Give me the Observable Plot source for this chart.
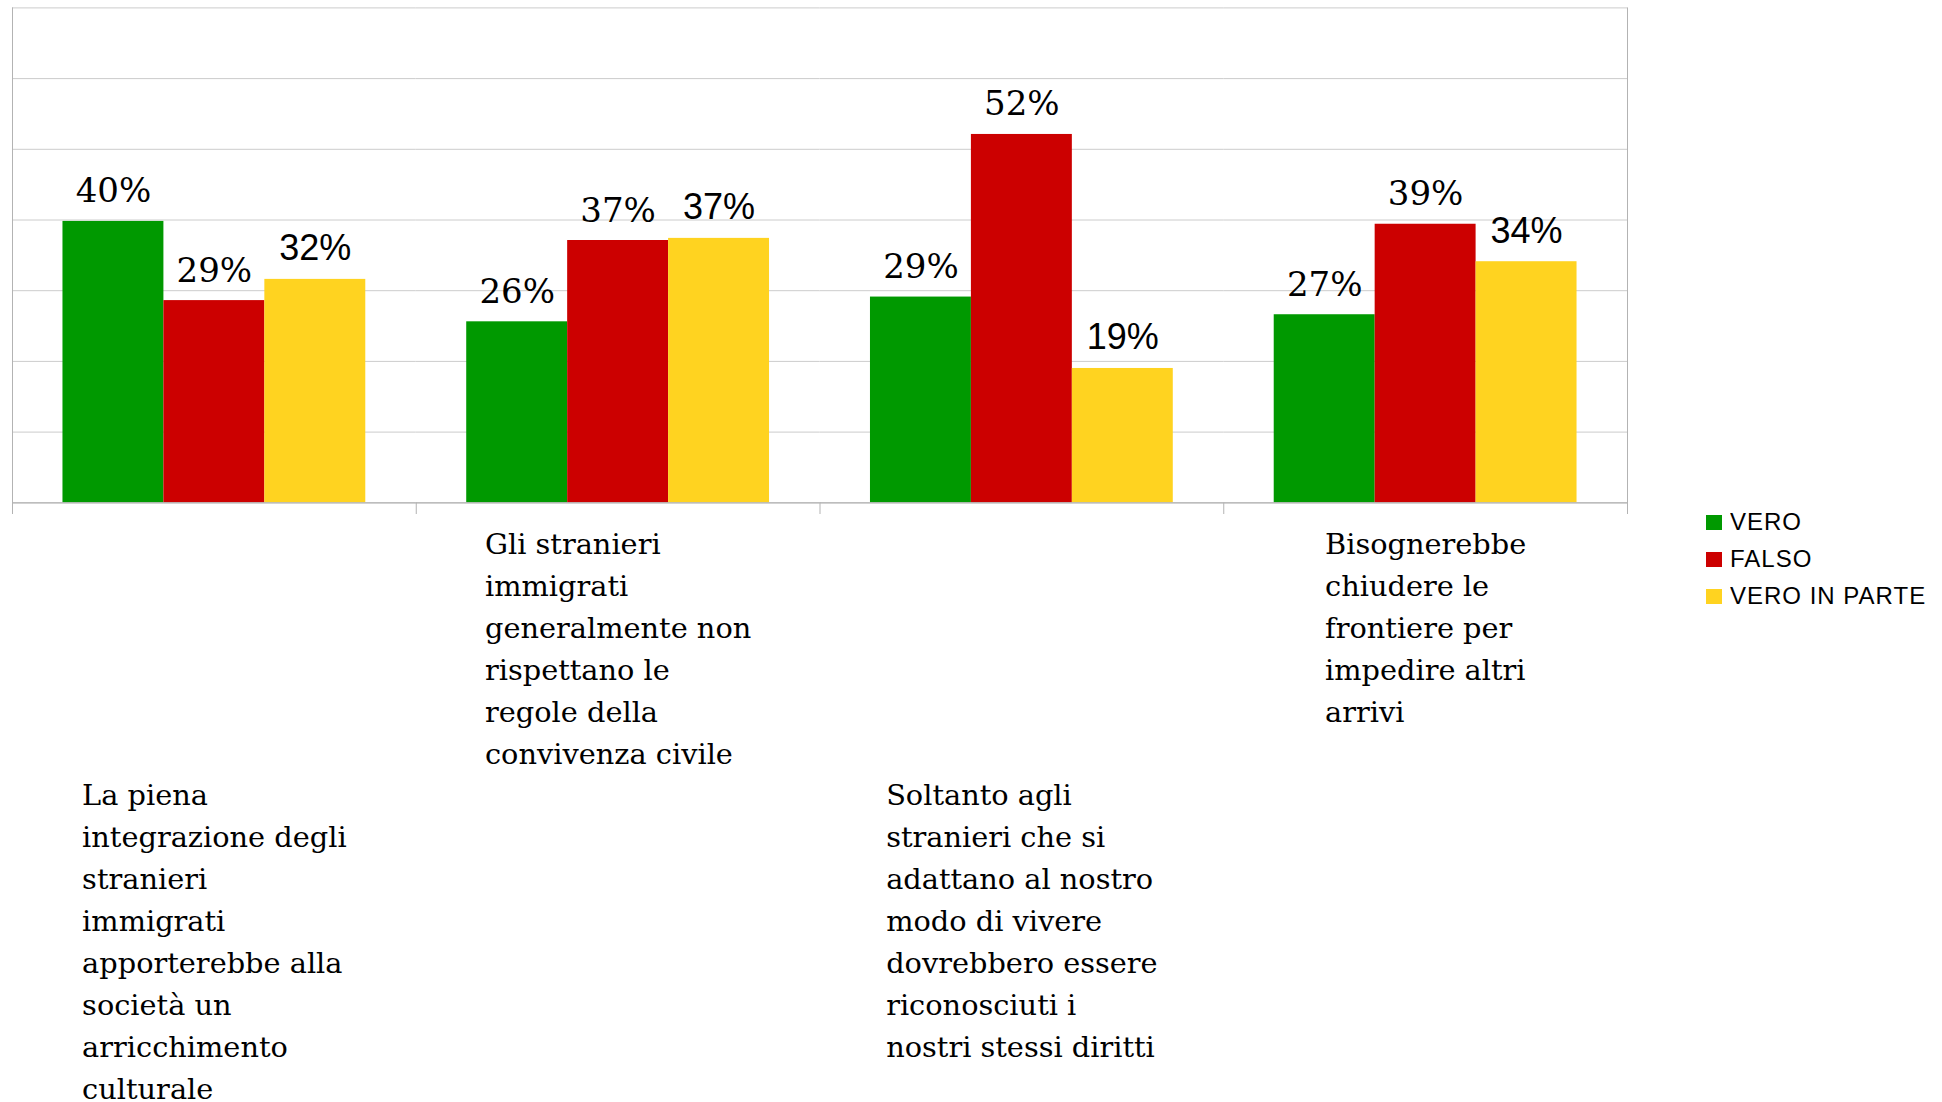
<!DOCTYPE html>
<html>
<head>
<meta charset="utf-8">
<script src="https://cdn.jsdelivr.net/npm/d3@7"></script>
<script src="https://cdn.jsdelivr.net/npm/@observablehq/plot@0.6"></script>
<style>
  html, body { margin: 0; padding: 0; background: #fff; overflow: hidden; }
  #wrap { position: relative; width: 1942px; height: 1102px; }
  #legend { position: absolute; left: 1706px; top: 504px; }
  .lg-swatch svg { margin-right: 8px !important; }
</style>
</head>
<body>
<div id="wrap">
  <div id="chart"></div>
  <div id="legend"></div>
</div>
<script>
// ---------- data ----------
const categories = [
  "La piena integrazione degli stranieri immigrati apporterebbe alla società un arricchimento culturale",
  "Gli stranieri immigrati generalmente non rispettano le regole della convivenza civile",
  "Soltanto agli stranieri che si adattano al nostro modo di vivere dovrebbero essere riconosciuti i nostri stessi diritti",
  "Bisognerebbe chiudere le frontiere per impedire altri arrivi"
];
const categoryLines = [
  ["La piena", "integrazione degli", "stranieri", "immigrati", "apporterebbe alla", "società un", "arricchimento", "culturale"],
  ["Gli stranieri", "immigrati", "generalmente non", "rispettano le", "regole della", "convivenza civile"],
  ["Soltanto agli", "stranieri che si", "adattano al nostro", "modo di vivere", "dovrebbero essere", "riconosciuti i", "nostri stessi diritti"],
  ["Bisognerebbe", "chiudere le", "frontiere per", "impedire altri", "arrivi"]
];
const series = ["VERO", "FALSO", "VERO IN PARTE"];
const vero        = [39.8, 25.6, 29.1, 26.6];
const falso       = [28.6, 37.1, 52.1, 39.4];
const veroInParte = [31.6, 37.4, 19.0, 34.1];
const colors = ["#009900", "#cc0000", "#ffd320"];
const yTicks = [0, 10, 20, 30, 40, 50, 60, 70];

// ---------- layout ----------
const W = 1942, H = 1102;
const mL = 12, mR = 315, mT = 7.4, mB = 599.7;
const plotH = H - mT - mB;
const gridColor = "#cccccc";
const axisColor = "#b3b3b3";

const rows = [];
categories.forEach((c, i) => {
  rows.push({cat: c, series: series[0], value: vero[i]});
  rows.push({cat: c, series: series[1], value: falso[i]});
  rows.push({cat: c, series: series[2], value: veroInParte[i]});
});

// category label blocks: left-aligned lines, block centred on the category
const labelFont = 28.8, lineGap = 42;
const ctx = document.createElement("canvas").getContext("2d");
ctx.font = `${labelFont}px "DejaVu Serif"`;
const labelMarks = categories.map((c, i) => {
  const lines = categoryLines[i];
  const w = d3.max(lines, l => ctx.measureText(l).width);
  const firstBaseline = i % 2 === 0 ? 302.7 : 51;
  return Plot.text([{cat: c, text: lines.join("\n")}], {
    fx: "cat", text: "text",
    frameAnchor: "bottom", textAnchor: "start", lineAnchor: "top",
    lineHeight: lineGap / labelFont,
    dx: -w / 2, dy: firstBaseline - 0.71 * lineGap,
    fontSize: labelFont, fontFamily: "DejaVu Serif", fill: "#000"
  });
});

const chart = Plot.plot({
  width: W, height: H,
  marginLeft: mL, marginRight: mR, marginTop: mT, marginBottom: mB,
  fx: {domain: categories, padding: 0, round: false, axis: null},
  x: {domain: series, paddingInner: 0, paddingOuter: 0.5, round: false, axis: null},
  y: {domain: [0, 70], axis: null},
  color: {domain: series, range: colors},
  marks: [
    Plot.gridY(yTicks, {stroke: gridColor, strokeOpacity: 1}),
    Plot.barY(rows, {fx: "cat", x: "series", y: "value", fill: "series"}),
    Plot.ruleY([0], {stroke: axisColor, strokeWidth: 1.2}),
    Plot.frame({anchor: "left", stroke: axisColor, strokeOpacity: 1, insetTop: plotH, insetBottom: -10.7}),
    Plot.frame({facet: "super", anchor: "left", stroke: axisColor, strokeOpacity: 1, insetBottom: -10.7}),
    Plot.frame({facet: "super", anchor: "right", stroke: axisColor, strokeOpacity: 1, insetBottom: -10.7}),
    Plot.text(rows.filter(d => d.series !== "VERO IN PARTE"), {
      fx: "cat", x: "series", y: "value",
      text: d => `${Math.round(d.value)}%`,
      lineAnchor: "bottom", dy: -19,
      fontSize: 34, fontFamily: "DejaVu Serif", fill: "#000"
    }),
    Plot.text(rows.filter(d => d.series === "VERO IN PARTE"), {
      fx: "cat", x: "series", y: "value",
      text: d => `${Math.round(d.value)}%`,
      lineAnchor: "bottom", dy: -19,
      fontSize: 36, fontFamily: "Liberation Sans", fill: "#000"
    }),
    ...labelMarks
  ]
});
document.getElementById("chart").appendChild(chart);

const legend = Plot.legend({
  color: {domain: series, range: colors},
  legend: "swatches",
  columns: 1,
  className: "lg",
  swatchWidth: 16, swatchHeight: 15,
  style: {
    fontFamily: "'Liberation Sans', Arial, sans-serif",
    fontSize: "24px",
    lineHeight: "36px",
    letterSpacing: "1px",
    color: "#000",
    width: "260px",
    margin: "0"
  }
});
document.getElementById("legend").appendChild(legend);
</script>
</body>
</html>
